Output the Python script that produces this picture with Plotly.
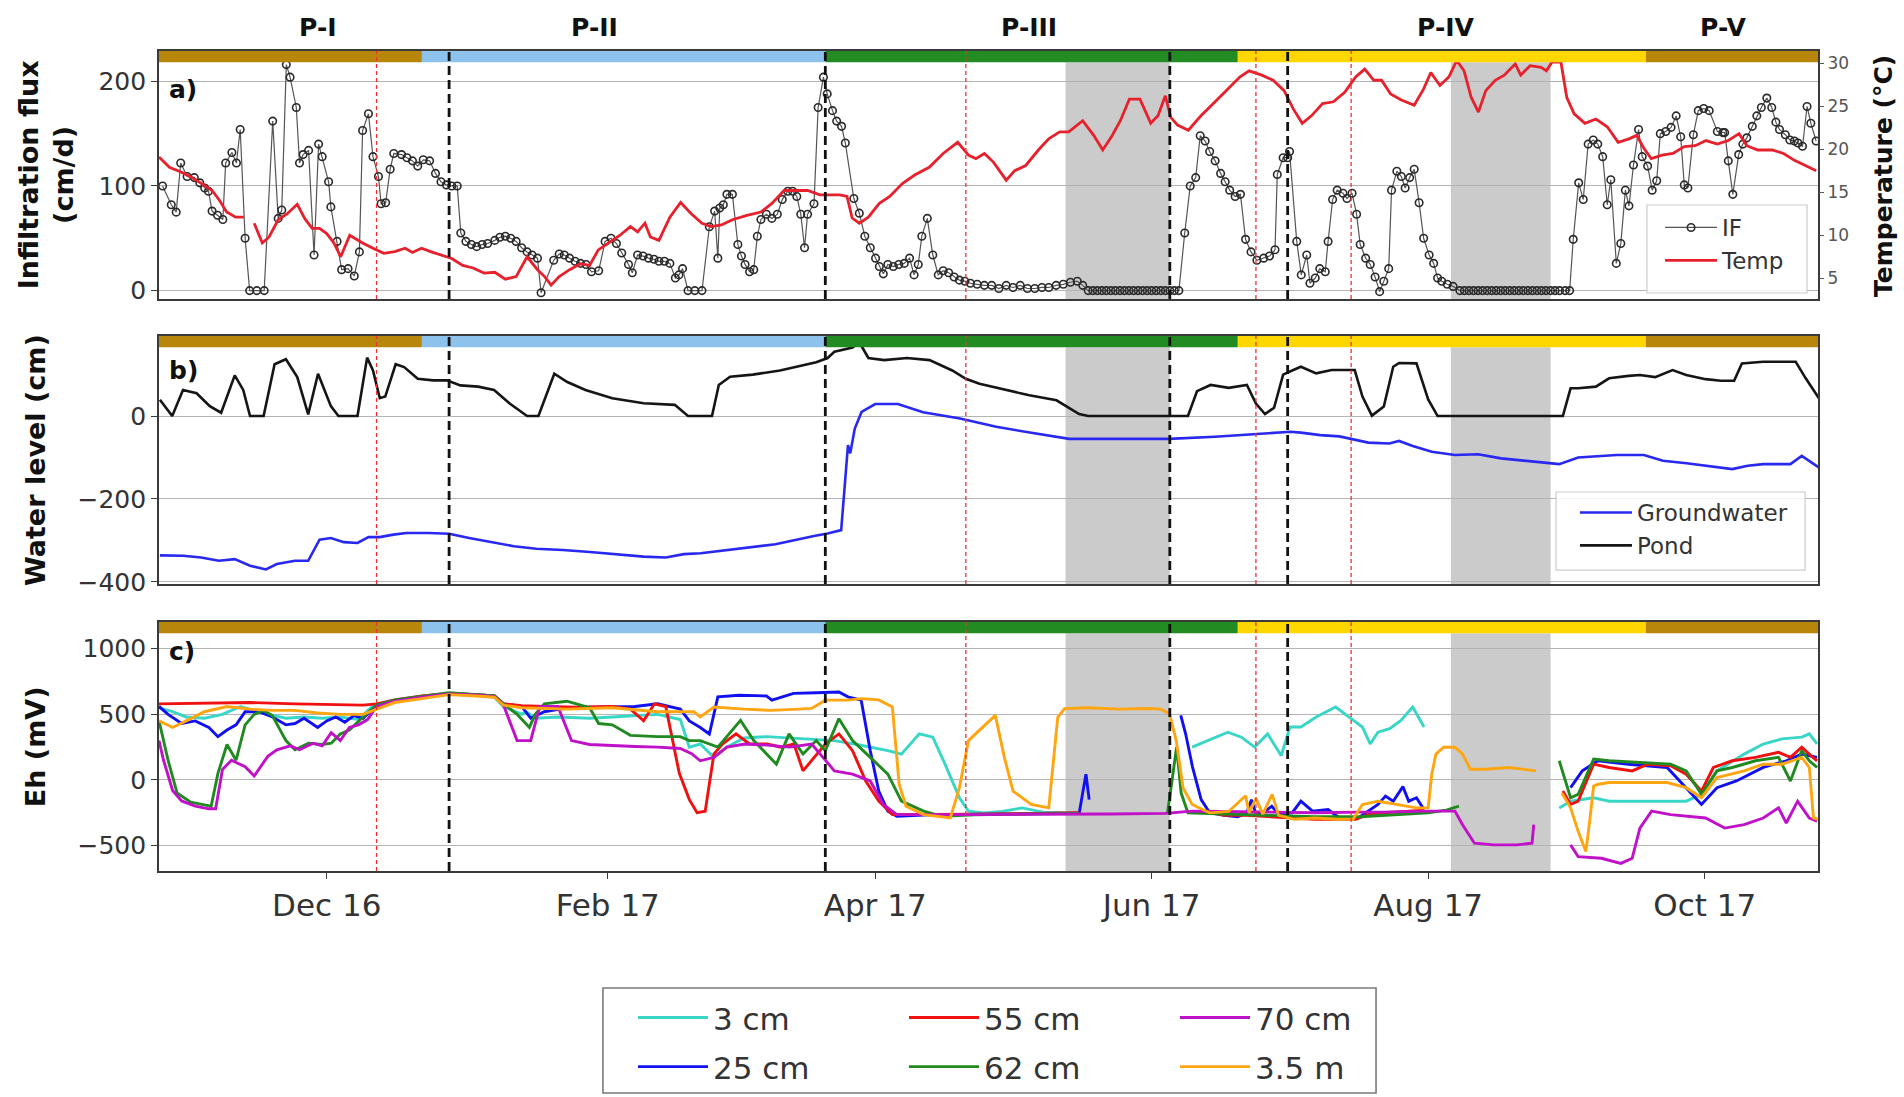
import pandas as pd
import plotly.graph_objects as go

# ---------------- data (time axis: days since START) ----------------
START = "2016-10-25"
END = "2017-10-26"

period_names = ["P-I", "P-II", "P-III", "P-IV", "P-V"]
period_label_dates = ["2016-11-29", "2017-01-29", "2017-05-05", "2017-08-05", "2017-10-05"]
period_bounds = ["2016-10-25", "2016-12-22", "2017-03-21", "2017-06-20", "2017-09-18", "2017-10-26"]
period_colors = ["#B8860B", "#8CC2EC", "#228B22", "#FFD700", "#B8860B"]

phase_lines = ["2016-12-28", "2017-03-21", "2017-06-05", "2017-07-01"]
event_lines = ["2016-12-12", "2017-04-21", "2017-06-24", "2017-07-15"]
dry_start = ["2017-05-13", "2017-08-06"]
dry_end = ["2017-06-05", "2017-08-28"]

tick_dates = ["2016-12-01", "2017-02-01", "2017-04-01", "2017-06-01", "2017-08-01", "2017-10-01"]
tick_text = ["Dec 16", "Feb 17", "Apr 17", "Jun 17", "Aug 17", "Oct 17"]

# Infiltration flux (cm/d)
if_day = [0.8, 2.7, 3.8, 4.8, 6.2, 7.8, 9, 10.1, 10.9, 11.7, 12.9, 14.1, 14.7, 16.1, 17.1, 17.9, 19, 20, 21.6, 23.2,
          25.1, 26.3, 27.1, 28.1, 28.9, 30.3, 31, 31.8, 33, 34.2, 35.2, 36, 37.4, 37.9, 39.3, 40.3, 41.7, 43.1, 44.2,
          44.9, 46.2, 47.2, 48.4, 49, 50, 51, 51.8, 53.5, 54.7, 55.9, 57.1, 58.3, 59.7, 61, 62.2, 63.4, 64.6, 65.8,
          66.6, 67.7, 68.9, 70.1, 71.3, 72.5, 74.1, 75.2, 76.4, 77.6, 78.8, 80, 81.2, 82.3, 83.5, 84.3, 87.1, 88.3,
          89.4, 90.6, 91.8, 93, 94.2, 95.4, 97, 98.4, 99.7, 100.9, 102.1, 103.6, 104.4, 105.6, 106.8, 108, 109.2,
          110.3, 111.5, 112.7, 113.9, 114.7, 115.5, 116.7, 118.2, 119.8, 121.4, 122.6, 123.3, 123.7, 124.5, 125.3,
          126.5, 127.7, 128.5, 129.3, 130.3, 131.2, 132, 132.8, 134, 135.2, 136.4, 137.5, 138.7, 139.8, 140.7, 141.6,
          142.4, 143.1, 144.5, 145.4, 146.6, 147.4, 148.6, 149.5, 150.6, 151.4, 153.3, 154.5, 155.7, 156.9, 158.1,
          158.9, 159.8, 160.8, 162, 163.2, 164.4, 165.6, 166.6, 167.5, 168.3, 169.5, 170.7, 171.9, 173, 174.2, 175.4,
          176.6, 177.8, 179, 180.5, 182.1, 183.7, 185.3, 186.9, 188.4, 190, 191.6, 193.2, 194.8, 196.3, 197.9, 199.5,
          201.1, 202.6, 203.8, 205, 206, 207, 208, 209, 210, 211, 212, 213, 214, 215, 216, 217, 218, 219, 220, 221,
          222, 223, 224, 225, 226.3, 227.5, 228.7, 229.7, 230.8, 231.8, 233, 234.2, 235.2, 236.2, 237.4, 238.6, 239.7,
          240.9, 242.2, 243.7, 245, 246.2, 246.7, 248, 249, 249.4, 251, 252, 253.2, 253.9, 255.1, 256.1, 257.3, 257.9,
          258.9, 259.9, 261.2, 262.1, 263.2, 264.2, 265, 266.2, 267.2, 268.3, 269.3, 270.2, 271.3, 271.9, 273.1,
          274.1, 274.9, 275.9, 276.9, 278, 279, 280.2, 281.2, 282.1, 283, 284.2, 285.5, 287, 288, 289, 290, 291, 292,
          293, 294, 295, 296, 297, 298, 299, 300, 301, 302, 303, 304, 305, 306, 307, 308, 309, 310.2, 311.2, 312,
          313.2, 314.2, 315.3, 316.4, 317.4, 318.5, 319.5, 320.3, 321.5, 322.5, 323.5, 324.3, 325.3, 326.4, 327.2,
          328.4, 329.4, 330.4, 331.2, 332.4, 333.6, 334.7, 335.7, 336.5, 337.3, 338.5, 339.6, 340.8, 342, 343.8, 345,
          345.4, 346.2, 347.2, 348.5, 349.4, 350.3, 351.5, 352.5, 353.5, 354.7, 355.8, 356.7, 357.5, 358.8, 359.8,
          360.8, 361.6, 362.6, 363.6, 364.4, 365.6]
if_val = [100, 82, 75, 122, 109, 108, 103, 98, 95, 76, 72, 68, 122, 132, 122, 154, 50, 0, 0, 0,
          162, 69, 77, 216, 204, 175, 122, 130, 134, 34, 140, 128, 104, 80, 47, 20, 21, 14, 37,
          153, 169, 128, 109, 83, 84, 116, 131, 130, 127, 124, 119, 125, 124, 112, 104, 101, 100, 100,
          55, 47, 44, 42, 44, 45, 48, 51, 52, 50, 47, 41, 37, 34, 31, -2, 29, 35,
          34, 31, 28, 26, 25, 18, 19, 47, 50, 45, 36, 25, 17, 34, 33, 31, 30,
          28, 28, 26, 12, 15, 21, 0, 0, 0, 61, 76, 31, 79, 82, 92,
          92, 44, 33, 25, 18, 20, 52, 68, 73, 69, 73, 87, 95, 95, 90, 73,
          41, 73, 83, 175, 204, 188, 172, 162, 157, 141, 88, 74, 52, 41, 31,
          23, 16, 25, 23, 25, 26, 31, 15, 25, 52, 69, 34, 15, 19, 17, 13,
          10, 9, 7, 6, 5, 5, 2, 5, 3, 5, 2, 2, 3, 3, 5, 6,
          8, 9, 5, 0, 0, 0, 0, 0, 0, 0, 0, 0, 0, 0, 0, 0, 0, 0, 0, 0,
          0, 0, 0, 0, 55, 100, 108, 148, 143, 133, 124, 112, 104, 96, 90, 92, 49,
          37, 29, 31, 33, 39, 111, 127, 127, 133, 47, 15, 34, 7, 12, 21, 18, 47,
          87, 96, 93, 88, 93, 73, 44, 31, 25, 13, -1, 9, 21, 96, 114,
          109, 98, 108, 116, 84, 50, 34, 26, 12, 9, 6, 4, 0, 0, 0, 0, 0, 0,
          0, 0, 0, 0, 0, 0, 0, 0, 0, 0, 0, 0, 0, 0, 0, 0, 0, 0, 0, 49, 103, 87,
          140, 144, 140, 128, 82, 106, 26, 45, 96, 81, 120, 154, 128, 119, 96,
          105, 150, 152, 156, 167, 147, 101, 98, 149, 172, 174, 172, 152, 151, 151, 124,
          92, 130, 140, 146, 157, 167, 175, 184, 175, 161, 154, 149, 144, 143, 141,
          138, 176, 160, 143, 112, 92]

# Temperature (deg C)
temp_day = [0, 2.3, 4.6, 7, 9.4, 11.7, 13.3, 14.9, 16.9, 18.7, 19.9, 21, 22.8, 24.3, 26.3, 28.3, 30.5, 32.2, 33.8,
            35.4, 37, 38.6, 40.1, 42.1, 43.3, 44.9, 47.2, 49.6, 52, 54.3, 55.9, 57.9, 59.9, 62.2, 64.6, 67, 69.3,
            71.7, 74.1, 76.4, 78.8, 81.2, 83.5, 85.1, 86.5, 88.3, 90.6, 93, 95, 96.9, 99.3, 101.7, 104, 105.6,
            107.2, 108.4, 110.3, 112.7, 115.1, 117.4, 119.8, 121.8, 124.1, 126.5, 129.7, 132.8, 135.2, 137.9, 140.7,
            143.1, 145.8, 147.8, 150.2, 151.8, 152.9, 154.5, 156.5, 158.9, 161.2, 164, 166.7, 169.9, 173, 176.2,
            178.6, 180.2, 182.1, 184.1, 186.9, 188.8, 191.2, 194, 196.3, 198.7, 200.7, 203.8, 206.2, 208.2, 210.1,
            212.1, 214.1, 216.4, 218.8, 220.4, 222, 223.2, 224.7, 227.1, 229.9, 233, 236.2, 238.5, 240.5, 243.3,
            245.8, 248.2, 250.2, 252.2, 254.3, 256.7, 259.1, 261.6, 264, 266, 268, 269.7, 271.7, 274.1, 276.9, 279,
            280.6, 282.6, 284.6, 286.3, 287.9, 289.5, 291.1, 292.7, 294.8, 296.8, 299.2, 300.4, 302.5, 304.9, 306.1,
            307.3, 309.3, 310.6, 312.2, 314.6, 317, 319.5, 321.9, 324.3, 326, 327.6, 329.2, 331.6, 334, 336.5, 338.9,
            341.3, 343.8, 346.2, 348.6, 350.3, 352.7, 355.9, 358.4, 360.8, 363.2, 365.6]
temp_val = [19.1, 17.9, 17.4, 16.8, 16.0, 15.2, 14.1, 12.7, 12.1, 12.1, None, 11.4, 9.1, 9.8, 11.8, 12.5, 13.6, 11.9,
            10.8, 10.8, 10.2, 9.1, 7.5, 10.0, 9.6, 9.1, 8.5, 7.9, 8.1, 8.5, 8.0, 8.5, 8.1, 7.7, 7.3, 6.5, 6.2,
            5.6, 5.7, 4.9, 5.2, 7.5, 6.0, 5.2, 4.2, 5.2, 6.0, 6.7, 6.5, 8.3, 9.1, 10.0, 11.0, 10.4,
            11.4, 9.8, 9.4, 12.1, 13.8, 12.5, 11.4, 11.0, 11.2, 11.8, 12.3, 12.7, 13.7, 15.2, 15.2,
            15.2, 14.7, 14.7, 14.7, 14.5, 12.0, 11.4, 12.1, 13.7, 14.5, 16.0, 17.0, 17.9, 19.5, 20.8,
            19.3, 18.9, 19.5, 18.5, 16.4, 17.5, 18.1, 19.9, 21.2, 22.0, 22.0, 23.3, 21.6, 19.9, 21.4,
            23.3, 25.8, 25.8, 23.0, 23.9, 26.2, 23.7, 22.8, 22.2, 23.9, 25.5, 27.2, 28.4, 29.1, 28.6,
            28.0, 26.8, 24.7, 23.0, 23.9, 25.3, 25.5, 26.6, 28.4, 29.3, 28.0, 28.0, 26.4, 25.7, 25.1, 27.0,
            28.9, 27.4, 28.4, 30.3, 29.1, 26.0, 24.3, 26.8, 28.0, 28.6, 29.9, 28.6, 29.7, 29.5, 29.1,
            30.1, 30.1, 26.0, 24.1, 23.0, 23.5, 22.6, 20.8, 21.2, 21.6, 20.1, 18.9, 19.3, 19.5, 20.3, 20.4,
            21.0, 20.6, 21.0, 21.8, 20.4, 19.9, 19.9, 19.5, 18.7, 18.1, 17.5]

# Water level (cm)
pond_day = [0.2, 2.9, 5.3, 8.3, 11.2, 13.7, 16.7, 18.6, 20.1, 23.1, 25.5, 28, 30.5, 32.9, 35.1, 37.9, 39.6, 43.8,
            45.9, 47.2, 48.7, 49.9, 52.2, 54.1, 57.1, 60.5, 63.5, 66.5, 70.4, 73.9, 77.3, 81.2, 83.7, 87.2, 90.1,
            94.1, 100, 106.9, 113.8, 116.7, 122, 123.5, 126, 131, 137, 141, 145, 147.5, 149, 153, 154.5, 156.5, 160,
            165, 170, 175, 178, 181, 186, 192, 198, 203, 205, 227, 229, 232, 236, 240, 242, 244, 246, 248, 250,
            251.9, 255.3, 258.7, 263.8, 265.5, 267.6, 270.2, 272.3, 273.6, 277.4, 280, 282.1, 309.7, 311.4, 313.1,
            317, 319.9, 324.2, 326.7, 330.1, 333.9, 336.9, 341.2, 344.6, 347.5, 349.2, 353.9, 361.1, 363.3, 366.2]
pond_val = [39, 0, 63, 55, 24, 8, 98, 63, 0, 0, 125, 137, 94, 4, 102, 24, 0, 0,
            141, 110, 43, 47, 125, 118, 90, 86, 86, 74, 71, 63, 31, 0, 0, 102, 82,
            63, 43, 31, 27, 0, 0, 75, 95, 100, 110, 120, 130, 140, 155, 165, 178, 140, 135,
            140, 135, 110, 90, 78, 65, 50, 38, 5, 0, 0, 60, 75, 68, 75, 30, 5, 20, 100, 110,
            119, 103, 111, 111, 47, 1, 23, 119, 128, 127, 40, 0, 0, 67, 67,
            71, 91, 97, 99, 94, 111, 99, 89, 85, 85, 127, 131, 131, 91, 43]

gw_day = [0.2, 5.3, 9.3, 13.2, 16.7, 20.1, 23.6, 26, 30, 32.9, 35.4, 37.9, 40.8, 43.8, 46.2, 48.7, 51.7, 54.6,
          59.6, 64, 68.4, 73.4, 78.3, 83.2, 89.1, 95.1, 101, 106.9, 111.8, 115.8, 119.5, 126, 136, 144.5, 147.5,
          150.5, 151.5, 152, 152.5, 153.5, 155, 158, 163, 168.6, 176.7, 184.7, 192.8, 200.8, 211.5, 222.8, 233,
          241, 249.6, 251.9, 256.2, 260.4, 263.8, 266.8, 271.4, 273.6, 276.6, 280.8, 285.9, 291, 296.1, 302.9,
          308.9, 313.1, 321.6, 327.6, 331.8, 337, 342, 347.1, 350.5, 353.9, 359.9, 362.4, 366.2]
gw_val = [-336, -337, -341, -349, -345, -361, -370, -357, -349, -349, -298, -294, -304, -306, -292, -292, -286, -282,
          -282, -284, -294, -304, -314, -320, -323, -328, -333, -339, -341, -333, -331, -322, -309, -289, -283,
          -275, -150, -70, -90, -30, 10, 29, 29, 9, -6, -26, -41, -55, -55, -55, -50,
          -44, -38, -40, -46, -49, -56, -64, -66, -60, -72, -86, -94, -92, -102, -110,
          -116, -100, -94, -94, -108, -114, -121, -128, -120, -116, -116, -96, -124]

# Eh (mV) at six depths
eh3_day = [0, 3, 6, 10, 14, 18, 20, 24, 28, 32, 36, 40, 44, 47, 52, 58, 64, 70, 74, 76, 80, 81, 83, 88, 95, 100, 105,
           110, 115, 117, 119.4, 122.4, 125.3, 129, 134, 140, 144, 149, 154, 157, 160.8, 163.8, 167.7, 170.7, 173.1,
           176.6, 178.6, 182, 186, 190.4, 195, 200, 203.2, 215, 227.9, 229.5, 235.8, 238.8, 241.7, 244.6, 247.6,
           249.5, 251.9, 255.3, 259.6, 263, 265.5, 267.2, 268.9, 271.5, 274, 276.6, 279.1, 295, 308.9, 311.4, 316.5,
           319.9, 328.4, 336.9, 340.3, 343.7, 349.7, 353.9, 358.1, 362.4, 364.1, 365.8]
eh3_val = [550, 520, 480, 470, 500, 560, 540, 500, 470, 480, 470, 480, 460, 560, 600, 630, 660, 645, 630, 560, 500, 520,
           470, 480, 470, 480, 490, 500, 460, 250, 274, 172, 250, 320, 330, 320, 310, 300, 270, 250, 223, 197, 351,
           326, 146, -136, -238, -251, -240, -213, -245, -250, -250, None, 250, 274, 364, 326, 250, 351, 185, 403,
           403, 480, 556, 467, 403, 274, 364, 390, 454, 556, 403, None, -213, -162, -136, -162, -162, -162, -110,
           69, 197, 274, 313, 326, 351, 274]

eh25_day = [0, 2, 5, 8, 11, 13, 15, 17, 19, 22, 25, 28, 30, 32, 35, 37, 39, 41, 43, 45, 48, 52, 58, 64, 70, 74, 76, 80,
            82, 85, 90, 100, 105, 110, 115, 117, 119.4, 121.4, 123.3, 128, 134, 135.2, 140, 145, 150, 152, 154.9,
            156.9, 158.8, 160.8, 162.8, 170, 180, 190, 200, 203, 204.5, 205.2, 215, 225.4, 226.5, 228, 229.9, 231.8,
            235, 238, 240, 241, 242, 244, 245.5, 247, 250, 251.9, 254.5, 257.9, 260.4, 264.6, 268.9, 270.6, 272.3,
            274.4, 275.7, 277.4, 279.1, 295, 311.4, 314, 317.4, 324.2, 332.7, 336.9, 340.3, 343.7, 348, 353.9, 359,
            362.4, 365.8]
eh25_val = [560, 500, 430, 450, 400, 330, 380, 420, 520, 520, 480, 420, 430, 470, 400, 450, 480, 440, 490, 470, 570,
            600, 630, 660, 650, 640, 580, 560, 470, 520, 550, 560, 560, 580, 540, 450, 400, 350, 633, 645, 640, 608,
            660, 665, 670, 633, 608, 223, -85, -238, -277, -265, -260, -258, -255, -255, 44, -150, None, 492, 350,
            100, -150, -250, -270, -280, -250, -150, -260, -240, -200, -260, -250, -162, -238, -226, -290, -290,
            -187, -123, -162, -51, -162, -136, -226, None, -59, 69, 146, 120, 95, -59, -187, -59, -8, 95, 146,
            197, 172]

eh55_day = [0, 10, 20, 30, 40, 45, 48, 52, 58, 64, 70, 74, 76, 80, 85, 92, 100, 104, 106.9, 109.3, 111.8, 114.8, 117,
            118.7, 120.5, 122.4, 124.3, 127.3, 130.3, 134.2, 137.2, 140.1, 142.1, 144, 147, 150, 153, 155.9, 158.8,
            161.8, 170, 180, 190, 200, 203, 217, 231, 235, 240, 245, 250, 255, 260, 264, 267, 270, 275, 279, 295,
            309.7, 311.4, 313.1, 316.5, 319.9, 325, 328.4, 333.5, 336.9, 340.3, 342.9, 347.1, 352.2, 357.3, 359.9,
            362.4, 364.1, 365.8]
eh55_val = [580, 585, 590, 580, 575, 570, 580, 610, 640, 660, 650, 640, 580, 565, 560, 555, 560, 540, 450, 580, 560,
            50, -150, -250, -238, 197, 274, 351, 274, 274, 249, 274, 69, 146, 274, 351, 223, -8, -162, -264, -265,
            -262, -258, -255, -250, None, -240, -270, -270, -280, -290, -300, -300, -300, -260, -250, -240, -230,
            None, -85, -187, -162, 120, 95, 69, 120, 108, 44, -85, 95, 146, 172, 210, 172, 249, 197, 146]

eh62_day = [0, 2, 4, 7, 10, 11.5, 13, 15, 17, 19, 21, 23, 25, 28, 30, 33, 36, 38, 40, 42, 45, 48, 52, 58, 64, 70, 74,
            76, 79, 81.7, 83, 85, 90, 95, 97, 100, 104, 110, 115, 117, 119.4, 123.3, 128.3, 131.2, 136.2, 139, 142.1,
            145, 147, 150, 153, 156.9, 160.8, 163.8, 168.7, 172.7, 180, 190, 200, 203, 213, 222.5, 224.5, 225.5, 227,
            235, 245, 255, 265, 275, 280, 284, 286.8, 298, 308.9, 311.4, 313.1, 316.5, 319.9, 328.4, 333.5, 336.9,
            340.3, 343.7, 347.1, 352.2, 357.3, 359.9, 362.4, 364.1, 365.8]
eh62_val = [450, 150, -100, -170, -190, -200, 50, 270, 150, 420, 500, 530, 490, 300, 230, 280, 270, 280, 350, 380,
            480, 570, 610, 640, 665, 650, 640, 580, 500, 400, 500, 580, 600, 550, 430, 420, 340, 330, 330, 300, 300,
            250, 454, 300, 120, 351, 197, 300, 223, 467, 300, 172, 44, -162, -238, -277, -265, -260, -258, -255,
            None, -250, 250, -100, -250, -260, -270, -280, -280, -260, -250, -230, -200, None, 146, -136, -110,
            159, 146, 133, 120, 69, -110, 69, 95, 146, 172, -8, 223, 146, 95]

eh70_day = [0, 1, 3, 5, 8, 11, 12.5, 14, 16, 19, 21, 24, 26, 29, 31, 34, 36, 38, 40, 42, 44, 46, 48, 52, 58, 64, 70,
            74, 76, 79, 82, 84, 88, 91, 95, 100, 105, 110, 115, 117.5, 119.4, 122.4, 125.3, 129.3, 134.2, 139.1, 144,
            149, 153, 156.9, 159.8, 162.8, 170, 180, 190, 200, 210, 222, 227.9, 235, 245, 255, 265, 270, 280, 285.9,
            287.6, 290.2, 294.4, 299.5, 302.9, 303.3, 307, 311.4, 313.1, 318.2, 322.5, 325, 326.7, 329.3, 333.5,
            341.2, 345.4, 349.7, 353.9, 357.3, 359, 361.5, 364.1, 365.8]
eh70_val = [300, 150, -80, -160, -200, -220, -220, 80, 150, 100, 30, 180, 230, 260, 230, 280, 260, 360, 300, 400, 420,
            460, 560, 600, 630, 655, 645, 635, 570, 300, 300, 560, 560, 300, 270, 260, 255, 250, 240, 200, 146, 172,
            250, 274, 265, 250, 274, 69, 44, -8, -187, -264, -265, -264, -262, -262, -260, -255, -238, -240, -245,
            -250, -245, -245, -238, -238, -341, -482, -495, -495, -482, -341, None, -495, -585, -597, -636, -597,
            -367, -238, -264, -290, -367, -341, -290, -213, -328, -162, -290, -315]

eh350_day = [0, 3, 6, 10, 15, 20, 25, 30, 35, 40, 45, 48, 52, 58, 64, 70, 74, 76, 80, 90, 100, 110, 118, 119.4, 122.4,
             129, 135, 141, 144, 147, 152, 155, 158.8, 161.8, 163.3, 164.8, 168.7, 174.6, 176.6, 178.6, 181, 184.5,
             186.5, 188.4, 192.4, 196.3, 198.3, 199.8, 205, 212, 218, 221, 222.9, 224.4, 225.9, 227.9, 231.8, 236,
             239.7, 240.5, 242, 243.5, 245.6, 247, 250.5, 255, 260, 263.4, 265.5, 268.9, 272, 277.4, 280, 280.8,
             281.7, 283.4, 285.9, 287.6, 289.3, 292.7, 297.8, 303.8, 306.5, 309.5, 311.4, 313.1, 314.8, 315.7,
             316.5, 317.5, 319.9, 326, 332.7, 336.9, 340.3, 343.7, 349.7, 353.9, 358.1, 362.4, 364.1, 365, 366]
eh350_val = [450, 400, 450, 520, 560, 540, 530, 530, 510, 500, 500, 540, 590, 620, 650, 640, 630, 570, 550, 540, 550,
             520, 520, 480, 556, 540, 530, 540, 545, 608, 608, 620, 610, 556, -33, -200, -264, -290, -59, 300, 377,
             492, 172, -85, -187, -213, 480, 544, 550, 540, 544, 540, 505, 300, -59, -187, -251, -240, -120, -250,
             -140, -260, -110, -270, -300, -290, -300, -300, -187, -162, -180, -213, -213, 44, 197, 249, 249, 197,
             82, 82, 95, 69, None, -100, -213, -392, -546, -290, -46, -33, -20, -20, -20, -59, -136, 18, 69, 120,
             120, 172, 95, -290, -300]

eh_names = ["3 cm", "25 cm", "55 cm", "62 cm", "70 cm", "3.5 m"]
eh_colors = ["#38D6C6", "#1010F0", "#F01010", "#208A20", "#C010C8", "#FFA510"]
eh_days = [eh3_day, eh25_day, eh55_day, eh62_day, eh70_day, eh350_day]
eh_vals = [eh3_val, eh25_val, eh55_val, eh62_val, eh70_val, eh350_val]
eh_legend_col = [0, 0, 1, 1, 2, 2]   # legend grid column of each depth
eh_legend_row = [0, 1, 0, 1, 0, 1]   # legend grid row of each depth

# ---------------- helpers ----------------
t0 = pd.Timestamp(START)


def to_dates(days):
    return [t0 + pd.Timedelta(hours=round(d * 24)) for d in days]


FONT = "DejaVu Sans"
fig = go.Figure()

# Panel a
fig.add_trace(go.Scatter(x=to_dates(if_day), y=if_val, name="IF", mode="lines+markers",
                         line=dict(color="#555555", width=1.2),
                         marker=dict(symbol="circle-open", size=7.5, color="#2a2a2a", line=dict(width=1.6)),
                         xaxis="x", yaxis="y", legend="legend"))
fig.add_trace(go.Scatter(x=to_dates(temp_day), y=temp_val, name="Temp", mode="lines",
                         line=dict(color="#E8202C", width=2.8), connectgaps=False,
                         xaxis="x", yaxis="y2", legend="legend"))

# Panel b
fig.add_trace(go.Scatter(x=to_dates(gw_day), y=gw_val, name="Groundwater", mode="lines",
                         line=dict(color="#2828F0", width=2.6), xaxis="x2", yaxis="y3", legend="legend2"))
fig.add_trace(go.Scatter(x=to_dates(pond_day), y=pond_val, name="Pond", mode="lines",
                         line=dict(color="#151515", width=2.6), xaxis="x2", yaxis="y3", legend="legend2"))

# Panel c (each depth gets its own legend slot in a 3x2 grid)
legend_layouts = {}
col_text_px = [713, 984, 1255]        # left edge of legend text in the page, px
row_y = [-0.179, -0.239]
for k, (nm, col, dd, vv) in enumerate(zip(eh_names, eh_colors, eh_days, eh_vals)):
    lg = "legend%d" % (k + 3)
    fig.add_trace(go.Scatter(x=to_dates(dd), y=vv, name=nm, mode="lines",
                             line=dict(color=col, width=2.9), connectgaps=False,
                             xaxis="x3", yaxis="y4", legend=lg))
    legend_layouts[lg] = dict(x=(col_text_px[eh_legend_col[k]] - 80 - 159) / 1659.0, y=row_y[eh_legend_row[k]],
                              xanchor="left", yanchor="middle", itemwidth=70, bgcolor="rgba(0,0,0,0)",
                              borderwidth=0, font=dict(family=FONT, size=31, color="#333"))

# ---------------- shapes ----------------
shapes = []
panel_yrefs = ["y domain", "y3 domain", "y4 domain"]
panel_xrefs = ["x", "x2", "x3"]
for xr, yr in zip(panel_xrefs, panel_yrefs):
    for s, e in zip(dry_start, dry_end):
        shapes.append(dict(type="rect", xref=xr, yref=yr, x0=s, x1=e, y0=0, y1=0.955,
                           fillcolor="#CBCBCB", line=dict(width=0), layer="below"))
    for i, c in enumerate(period_colors):
        shapes.append(dict(type="rect", xref=xr, yref=yr, x0=period_bounds[i], x1=period_bounds[i + 1],
                           y0=0.955, y1=1.0, fillcolor=c, line=dict(width=0), layer="above"))
    for d in event_lines:
        shapes.append(dict(type="line", xref=xr, yref=yr, x0=d, x1=d, y0=0, y1=1,
                           line=dict(color="#F03030", width=1.3, dash="4px,3px"), layer="above"))
    for d in phase_lines:
        shapes.append(dict(type="line", xref=xr, yref=yr, x0=d, x1=d, y0=0, y1=1,
                           line=dict(color="#111111", width=2.8, dash="9px,5px"), layer="above"))

# legend frames (drawn as boxes, legends themselves are transparent)
legend_boxes = [(0.8969, 0.9934, 0.7049, 0.8122, "#cccccc", 1.2),
                (0.8421, 0.9922, 0.3670, 0.4622, "#cccccc", 1.2),
                (0.2676, 0.7336, -0.2707, -0.1427, "#7a7a7a", 1.6)]
for x0, x1, y0, y1, lc, lw in legend_boxes:
    shapes.append(dict(type="rect", xref="paper", yref="paper", x0=x0, x1=x1, y0=y0, y1=y1,
                       line=dict(color=lc, width=lw), fillcolor="rgba(255,255,255,0.85)", layer="above"))

# ---------------- annotations ----------------
ann = []
for nm, d in zip(period_names, period_label_dates):
    ann.append(dict(text="<b>%s</b>" % nm, x=d, xref="x", y=1.029, yref="paper", showarrow=False,
                    font=dict(family=FONT, size=25, color="#111"), xanchor="center", yanchor="middle"))
for lab, xr, yr, yy in zip(["a)", "b)", "c)"], ["x domain", "x2 domain", "x3 domain"],
                           ["y domain", "y3 domain", "y4 domain"], [0.843, 0.863, 0.88]):
    ann.append(dict(text="<b>%s</b>" % lab, x=0.005, xref=xr, y=yy, yref=yr, showarrow=False,
                    font=dict(family=FONT, size=25, color="#111"), xanchor="left", yanchor="middle"))

title_font = dict(family=FONT, size=27, color="#111")
ann.append(dict(text="<b>Infiltration flux</b><br><b>(cm/d)</b>", x=-0.0684, xref="paper", y=0.849, yref="paper",
                textangle=-90, showarrow=False, font=title_font, xanchor="center", yanchor="middle"))
ann.append(dict(text="<b>Water level (cm)</b>", x=-0.0748, xref="paper", y=0.501, yref="paper",
                textangle=-90, showarrow=False, font=title_font, xanchor="center", yanchor="middle"))
ann.append(dict(text="<b>Eh (mV)</b>", x=-0.0748, xref="paper", y=0.152, yref="paper",
                textangle=-90, showarrow=False, font=title_font, xanchor="center", yanchor="middle"))
ann.append(dict(text="<b>Temperature (°C)</b>", x=1.0395, xref="paper", y=0.847, yref="paper",
                textangle=-90, showarrow=False, font=dict(family=FONT, size=25, color="#111"),
                xanchor="center", yanchor="middle"))

# ---------------- axes ----------------
axis_line = dict(showline=True, linecolor="#3a3a3a", linewidth=1.6, mirror=True)
xcommon = dict(type="date", range=[START, END], showgrid=False, zeroline=False, **axis_line)
grid = dict(showgrid=True, gridcolor="#b4b4b4", gridwidth=1.2, zeroline=False,
            ticks="outside", ticklen=6, tickcolor="#3a3a3a",
            tickfont=dict(family=FONT, size=25, color="#333"))
leg_small = dict(xanchor="left", yanchor="top", bgcolor="rgba(0,0,0,0)", borderwidth=0,
                 itemwidth=52, font=dict(family=FONT, size=23, color="#333"), tracegroupgap=0)

fig.update_layout(
    width=1904, height=1097,
    margin=dict(l=159, r=86, t=51, b=226, autoexpand=False),
    paper_bgcolor="white", plot_bgcolor="white",
    showlegend=True,
    xaxis=dict(domain=[0, 1], anchor="y", showticklabels=False, ticks="", **xcommon),
    xaxis2=dict(domain=[0, 1], anchor="y3", matches="x", showticklabels=False, ticks="", **xcommon),
    xaxis3=dict(domain=[0, 1], anchor="y4", matches="x", tickvals=tick_dates, ticktext=tick_text,
                ticks="outside", ticklen=6, tickcolor="#3a3a3a",
                tickfont=dict(family=FONT, size=31, color="#333"), **xcommon),
    yaxis=dict(domain=[0.6976, 1], range=[-8, 229], tickvals=[0, 100, 200], anchor="x", **grid, **axis_line),
    yaxis2=dict(overlaying="y", side="right", range=[2.6, 31.4], tickvals=[5, 10, 15, 20, 25, 30],
                showgrid=False, zeroline=False, ticks="outside", ticklen=5, tickcolor="#555",
                tickfont=dict(family=FONT, size=17, color="#555"), anchor="x"),
    yaxis3=dict(domain=[0.35, 0.6524], range=[-405, 193], tickvals=[-400, -200, 0], anchor="x2",
                **grid, **axis_line),
    yaxis4=dict(domain=[0, 0.3037], range=[-694, 1204], tickvals=[-500, 0, 500, 1000], anchor="x3",
                **grid, **axis_line),
    legend=dict(x=0.9048, y=0.811, **leg_small),
    legend2=dict(x=0.8535, y=0.4634, **leg_small),
    shapes=shapes,
    annotations=ann,
)
fig.update_layout(**legend_layouts)

fig.write_html("out.html", config={"displayModeBar": False},
               post_script="document.body.style.margin='0px';")
